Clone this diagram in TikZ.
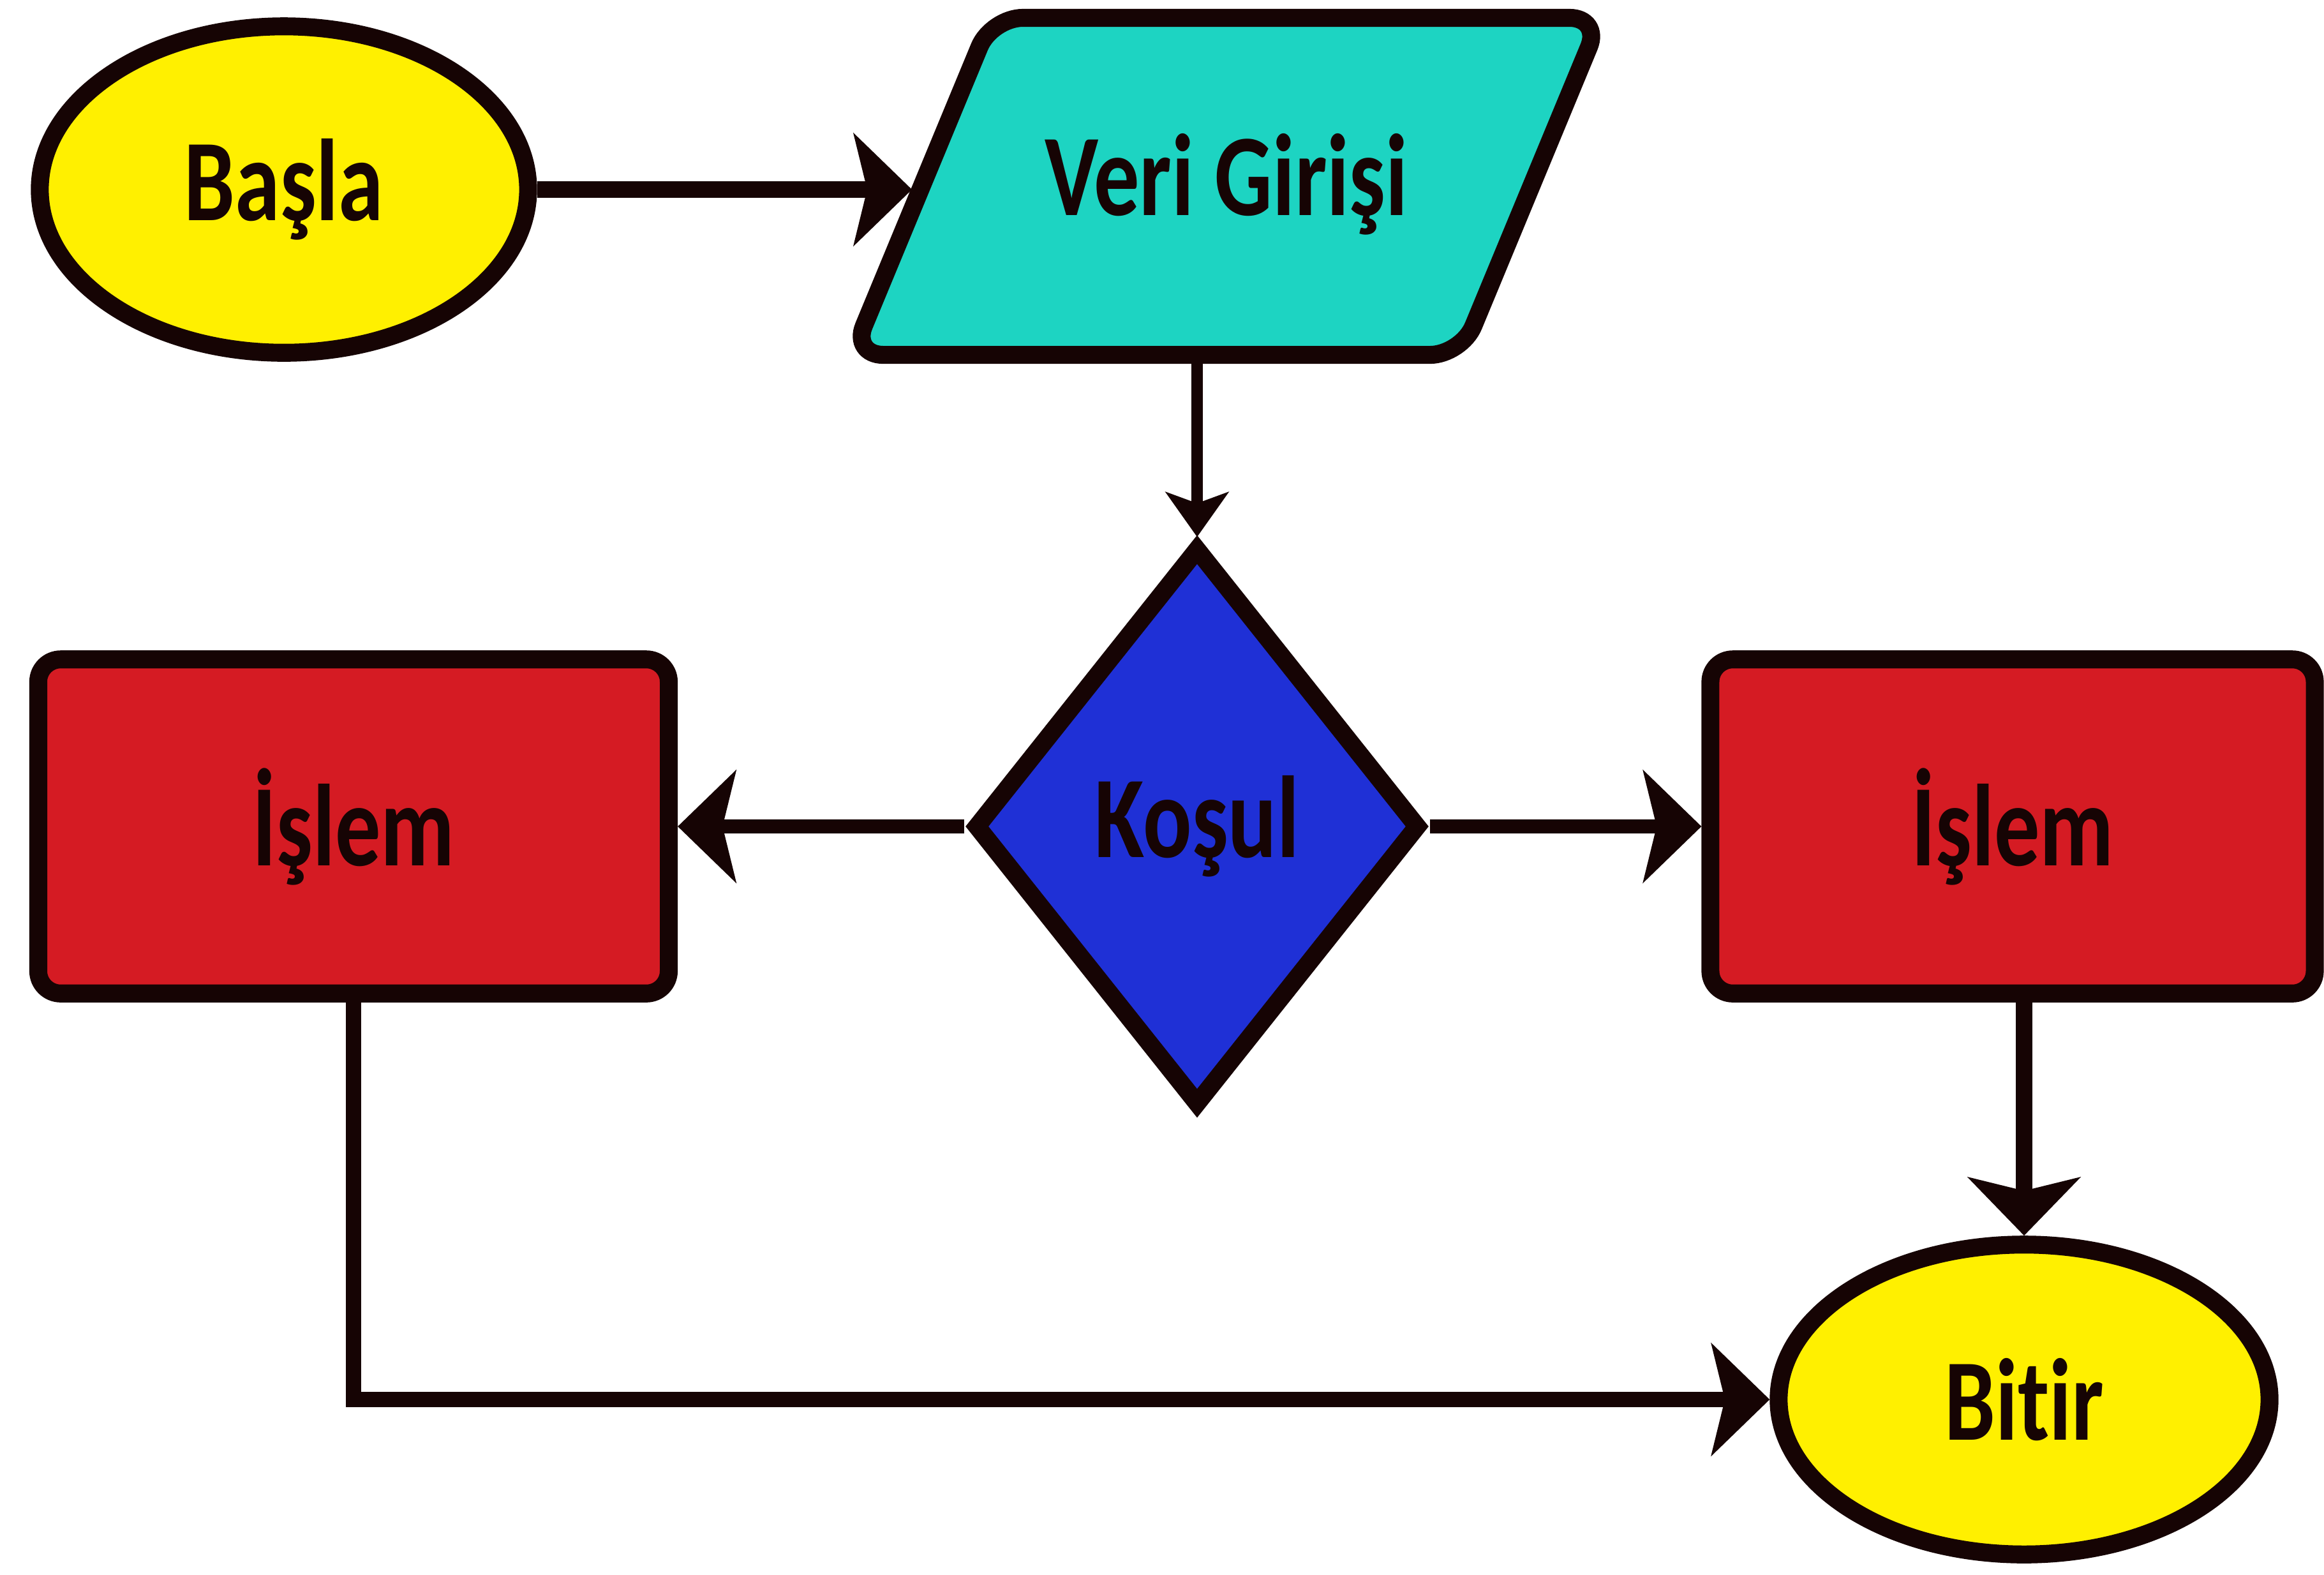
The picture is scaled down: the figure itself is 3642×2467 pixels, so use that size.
\documentclass[tikz,border=0pt]{standalone}
\usepackage{fontspec}
\setmainfont{Carlito}[Ligatures=NoCommon]
\usepackage{tikz}
\usetikzlibrary{shapes.geometric,arrows.meta}

\definecolor{sari}{RGB}{255,240,0}
\definecolor{turkuaz}{RGB}{29,212,194}
\definecolor{mavi}{RGB}{31,48,214}
\definecolor{kirmizi}{RGB}{213,27,35}
\definecolor{kontur}{RGB}{22,4,4}
\newcommand{\dar}[1]{\scalebox{0.78}[1]{#1}}

\begin{document}
\begin{tikzpicture}[x=0.005cm, y=-0.005cm,
	sekil/.style={draw=kontur, line width=4pt, inner sep=0pt, text=kontur,
		font=\fontsize{26}{30}\selectfont\bfseries},
	ucbilgi/.style={sekil, ellipse, fill=sari},
	islembox/.style={sekil, rectangle, rounded corners=5pt, fill=kirmizi, minimum height=2.62cm},
	akis/.style={draw=kontur, line width=3.8pt, -{Stealth[length=13pt, width=25pt, inset=3pt]}},
	ince/.style={line width=2.6pt, -{Stealth[length=10pt, width=14pt, inset=2.5pt]}}]
	\useasboundingbox[fill=white] (0,0) rectangle (3642,2467);
	% Düğümler
	\node[ucbilgi, minimum width=3.83cm, minimum height=2.56cm] (basla) at (445,297) {\dar{Başla}};
	\node[sekil, trapezium, trapezium left angle=67.5, trapezium right angle=112.5,
		trapezium stretches body, text height=18pt, text depth=5pt, inner ysep=26.1pt,
		minimum width=5.875cm, rounded corners=7pt, fill=turkuaz] (veri) at (1922,292) {\dar{Veri Girişi}};
	\node[sekil, diamond, fill=mavi, minimum width=3.51cm, minimum height=4.4cm] (kosul) at (1876,1295) {\dar{Koşul}};
	\node[islembox, minimum width=4.945cm] (islemL) at (554,1295) {\dar{İşlem}};
	\node[islembox, minimum width=4.74cm] (islemR) at (3154,1295) {\dar{İşlem}};
	\node[ucbilgi, minimum width=3.85cm, minimum height=2.43cm] (bitir) at (3172,2193) {\dar{Bitir}};
	% Oklar
	\draw[akis] (basla.east) -- (basla.east -| veri.west);
	\draw[akis, ince] (veri.south -| kosul.north) -- (kosul.north);
	\draw[akis, line width=3.2pt] (kosul.west) -- (kosul.west -| islemL.east);
	\draw[akis, line width=3.2pt] (kosul.east) -- (kosul.east -| islemR.west);
	\draw[akis] (bitir.north |- islemR.south) -- (bitir.north);
	\draw[akis, line width=3.3pt] (islemL.south) |- (bitir.west);
\end{tikzpicture}
\end{document}
